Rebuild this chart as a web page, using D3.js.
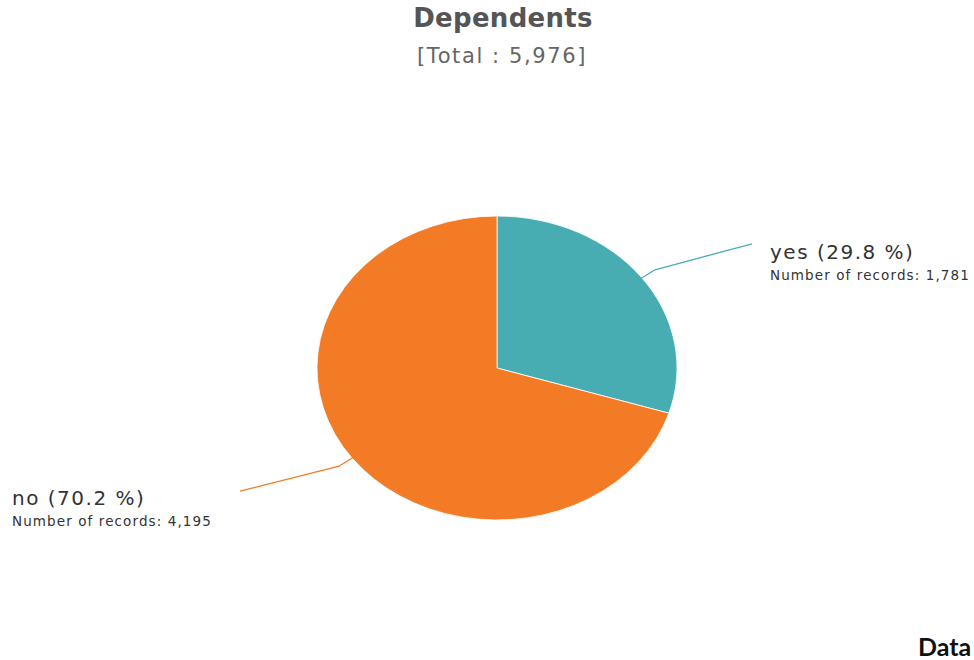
<!DOCTYPE html>
<html>
<head>
<meta charset="utf-8">
<script src="https://cdn.jsdelivr.net/npm/d3@7"></script>
<style>
  html, body { margin: 0; padding: 0; background: #fff; overflow: hidden; }
  svg { display: block; }
</style>
</head>
<body>
<svg id="chart" width="974" height="660"></svg>
<script>
// Dependents breakdown
const categories = ["yes", "no"];
const records = [1781, 4195];
const colors = ["#48ACB3", "#F37B25"];
const titleText = "Dependents";

const total = d3.sum(records);
const data = categories.map((c, i) => ({ name: c, value: records[i], color: colors[i] }));

const svg = d3.select("#chart");

const cx = 497, cy = 368;
const rx = 180, ry = 152;

// Title
svg.append("text")
  .attr("x", 503).attr("y", 27)
  .attr("text-anchor", "middle")
  .attr("font-family", "DejaVu Sans, sans-serif")
  .attr("font-weight", "bold")
  .attr("font-size", 26)
  .attr("letter-spacing", 0.3)
  .attr("fill", "#555")
  .text(titleText);

svg.append("text")
  .attr("x", 502).attr("y", 63)
  .attr("text-anchor", "middle")
  .attr("font-family", "DejaVu Sans, sans-serif")
  .attr("font-size", 21)
  .attr("letter-spacing", 1.6)
  .attr("fill", "#666")
  .text(`[Total : ${d3.format(",")(total)}]`);

// Pie (drawn on a circle of radius ry, stretched horizontally)
const pie = d3.pie().value(d => d.value).sort(null);
const arcs = pie(data);
const arc = d3.arc().innerRadius(0).outerRadius(ry);

const g = svg.append("g")
  .attr("transform", `translate(${cx},${cy}) scale(${rx / ry},1)`);

g.selectAll("path")
  .data(arcs)
  .join("path")
  .attr("d", arc)
  .attr("fill", d => d.data.color)
  .attr("stroke", "#fff")
  .attr("stroke-width", 0.8)
  .attr("vector-effect", "non-scaling-stroke");

// Leader lines and labels
const fmtPct = d3.format(".1f");
function pt(angle, k) {
  return [cx + rx * k * Math.sin(angle), cy - ry * k * Math.cos(angle)];
}

arcs.forEach(a => {
  const mid = (a.startAngle + a.endAngle) / 2;
  const right = Math.sin(mid) > 0;
  const p0 = pt(mid, 0.99);
  const p1 = pt(mid, 1.09);
  const p2 = [right ? 752 : 240, p1[1] + (right ? -26 : 25)];
  svg.append("polyline")
    .attr("points", [p0, p1, p2].map(p => p.join(",")).join(" "))
    .attr("fill", "none")
    .attr("stroke", a.data.color)
    .attr("stroke-width", 1.3);

  const lx = right ? 770 : 12;
  const ly = right ? 259 : 505;
  svg.append("text")
    .attr("x", lx).attr("y", ly)
    .attr("font-family", "DejaVu Sans, sans-serif")
    .attr("font-size", 20)
    .attr("letter-spacing", 1.5)
    .attr("fill", "#333")
    .text(`${a.data.name} (${fmtPct(a.data.value / total * 100)} %)`);
  svg.append("text")
    .attr("x", lx).attr("y", ly + 21)
    .attr("font-family", "DejaVu Sans, sans-serif")
    .attr("font-size", 13.5)
    .attr("letter-spacing", 1.1)
    .attr("fill", "#333")
    .text(`Number of records: ${d3.format(",")(a.data.value)}`);
});

// Brand mark
svg.append("text")
  .attr("x", 918).attr("y", 656)
  .attr("font-family", "Lato, sans-serif")
  .attr("font-weight", "bold")
  .attr("font-size", 25)
  .attr("fill", "#111")
  .text("Data");
</script>
</body>
</html>
